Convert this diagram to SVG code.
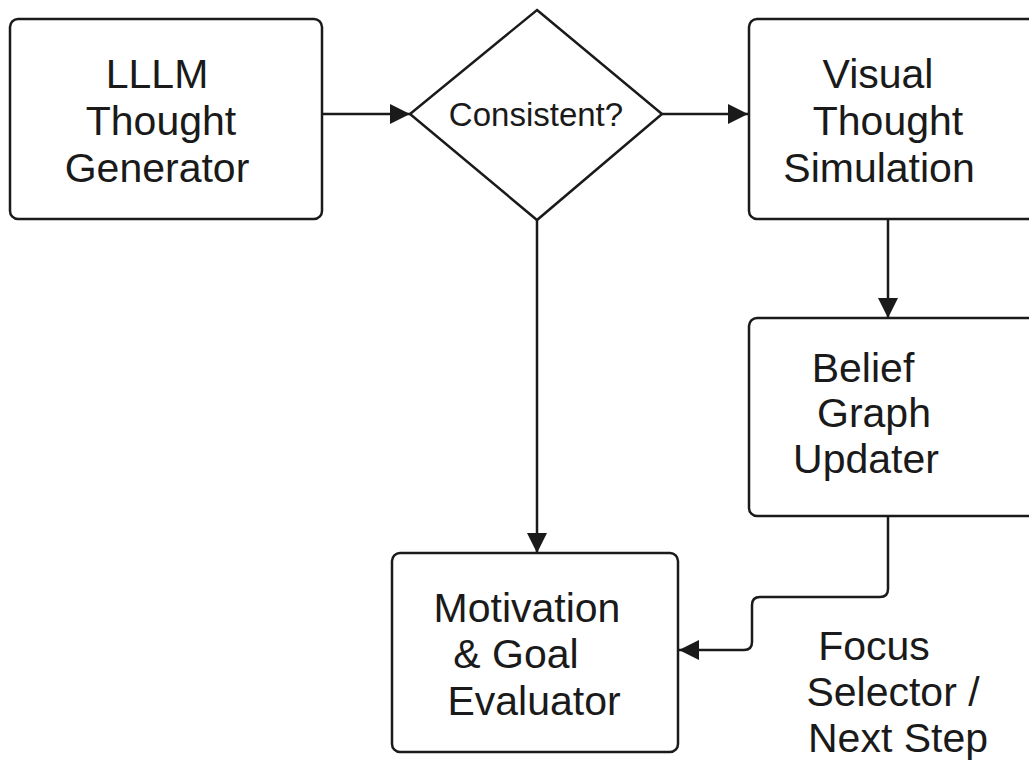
<svg xmlns="http://www.w3.org/2000/svg" width="1029" height="763" viewBox="0 0 1029 763">
<defs>
<marker id="ah2" viewBox="0 0 20 20" refX="20" refY="10" markerWidth="22" markerHeight="20" markerUnits="userSpaceOnUse" orient="auto">
<path d="M0,0 L20,10 L0,20 z" fill="#1a1a1a"/>
</marker>
<style>
.box{fill:#fff;stroke:#1a1a1a;stroke-width:2.5}
.t{font-family:"Liberation Sans",Arial,sans-serif;font-size:41px;fill:#1a1a1a;text-anchor:middle}
.d{font-size:33px}
.c{fill:none;stroke:#1a1a1a;stroke-width:2.5}
</style>
</defs>
<rect width="1029" height="763" fill="#fff"/>
<g id="connectors">
<line class="c" x1="322" y1="114" x2="410" y2="114" marker-end="url(#ah2)"/>
<line class="c" x1="662" y1="114" x2="748" y2="114" marker-end="url(#ah2)"/>
<line class="c" x1="888" y1="219" x2="888" y2="318" marker-end="url(#ah2)"/>
<line class="c" x1="537" y1="220" x2="537" y2="553" marker-end="url(#ah2)"/>
<path class="c" d="M888,516 L888,589 Q888,597 880,597 L760,597 Q752,597 752,605 L752,642 Q752,650 744,650 L679,650" marker-end="url(#ah2)"/>
</g>
<g id="llm">
<rect class="box" x="10" y="19" width="312" height="200" rx="8"/>
<text class="t" x="157" y="88">LLLM</text>
<text class="t" x="161" y="135">Thought</text>
<text class="t" x="157" y="182">Generator</text>
</g>
<g id="consistent">
<polygon class="box" points="537,10 662,114 537,220 410,114"/>
<text class="t d" x="536" y="126">Consistent?</text>
</g>
<g id="visual">
<rect class="box" x="749" y="19" width="290" height="200" rx="8"/>
<text class="t" x="878" y="88">Visual</text>
<text class="t" x="888" y="135">Thought</text>
<text class="t" x="879" y="182">Simulation</text>
</g>
<g id="belief">
<rect class="box" x="749" y="318" width="290" height="198" rx="8"/>
<text class="t" x="863" y="382">Belief</text>
<text class="t" x="874" y="427">Graph</text>
<text class="t" x="866" y="473">Updater</text>
</g>
<g id="motivation">
<rect class="box" x="392" y="553" width="286" height="199" rx="8"/>
<text class="t" x="527" y="622">Motivation</text>
<text class="t" x="516" y="668">&amp; Goal</text>
<text class="t" x="534" y="715">Evaluator</text>
</g>
<g id="focus-label">
<text class="t" x="874" y="660">Focus</text>
<text class="t" x="893" y="706">Selector /</text>
<text class="t" x="898" y="752">Next Step</text>
</g>
</svg>
